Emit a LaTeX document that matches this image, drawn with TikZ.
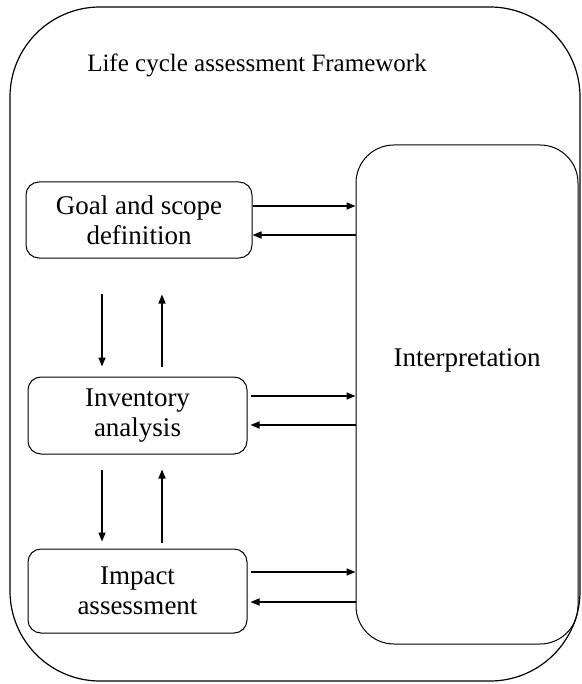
\documentclass[tikz,border=0pt]{standalone}
\usepackage{fontspec}
\setmainfont{Liberation Serif}
\usetikzlibrary{positioning,calc,arrows.meta}

\begin{document}
\begin{tikzpicture}[x=1pt,y=-1pt,
    stage/.style={draw, line width=1pt, rounded corners=13pt, align=center,
      inner sep=0pt, font=\fontsize{27}{30}\selectfont},
    arr/.style={-{Triangle[length=9pt,width=7pt]}, line width=1.5pt}]
    \useasboundingbox (0,0) rectangle (581,684);

    % Framework
    \draw[line width=1.2pt, rounded corners=90pt] (10,7) rectangle (580,681);
    \node[font=\fontsize{25}{28}\selectfont] (title) at (257,65) {Life cycle assessment Framework};

    % Phases
    \node[stage, minimum width=226pt, minimum height=76pt] (goal) at (139,220) {Goal and scope\\definition};
    \node[stage, minimum width=219pt, minimum height=77pt] (inv) at (137.5,415.5) {Inventory\\analysis};
    \node[stage, minimum width=219pt, minimum height=84pt] (imp) at (137.5,591) {Impact\\assessment};
    \node[stage, rounded corners=38pt, minimum width=222pt, minimum height=499pt] (interp) at (467,394.5) {};
    \node[font=\fontsize{27}{30}\selectfont] (interptext) at ($(interp)+(0,-34)$) {Interpretation};

    % Links to interpretation
    \draw[arr] ($(goal.east)+(0,-14)$) -- ($(goal.east -| interp.west)+(0,-14)$);
    \draw[arr] ($(goal.east -| interp.west)+(0,15)$) -- ($(goal.east)+(0,15)$);
    \draw[arr] ($(inv.east)+(3,-19.5)$) -- ($(inv.east -| interp.west)+(0,-19.5)$);
    \draw[arr] ($(inv.east -| interp.west)+(0,9.5)$) -- ($(inv.east)+(3,9.5)$);
    \draw[arr] ($(imp.east)+(3,-19)$) -- ($(imp.east -| interp.west)+(0,-19)$);
    \draw[arr] ($(imp.east -| interp.west)+(0,11)$) -- ($(imp.east)+(3,11)$);

    % Links between phases
    \draw[arr] ($(goal.south)+(-37,35)$) -- ($(inv.north)+(-35.5,-10)$);
    \draw[arr] ($(inv.north)+(24.5,-10)$) -- ($(goal.south)+(23,36)$);
    \draw[arr] ($(inv.south)+(-35.5,15)$) -- ($(imp.north)+(-35.5,-7)$);
    \draw[arr] ($(imp.north)+(24.5,-6)$) -- ($(inv.south)+(24.5,15)$);
\end{tikzpicture}
\end{document}
